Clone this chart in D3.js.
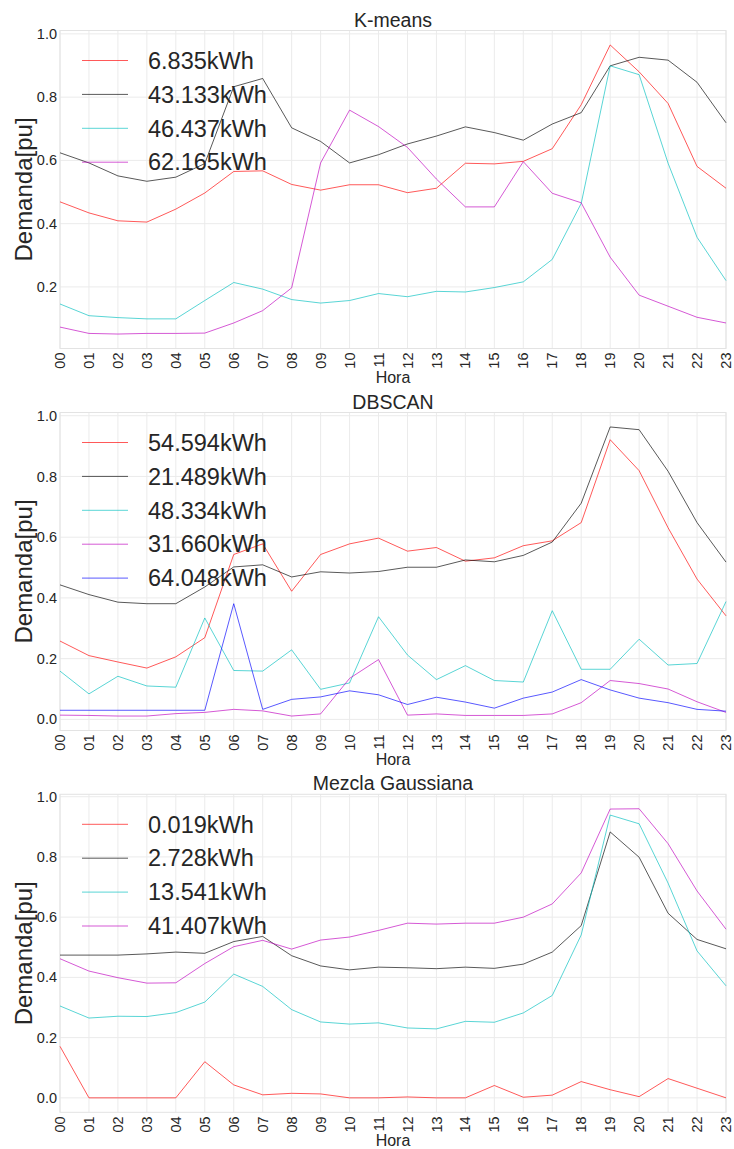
<!DOCTYPE html>
<html>
<head>
<meta charset="utf-8">
<script src="https://cdn.jsdelivr.net/npm/d3@7"></script>
<style>
  body { margin: 0; background: #fff; }
  svg { display: block; font-family: "Liberation Sans", Arial, sans-serif; }
</style>
</head>
<body>
<svg id="chart" width="734" height="1149"></svg>
<script>
const hours = ["00","01","02","03","04","05","06","07","08","09","10","11","12","13","14","15","16","17","18","19","20","21","22","23"];
const yTicks = [0.0, 0.2, 0.4, 0.6, 0.8, 1.0];

// K-means
const kmeansTitle = "K-means";
const kmeansLabels = ["6.835kWh", "43.133kWh", "46.437kWh", "62.165kWh"];
const kmeansRed = [0.469,0.434,0.409,0.405,0.446,0.497,0.565,0.567,0.524,0.506,0.523,0.523,0.498,0.512,0.591,0.589,0.597,0.637,0.776,0.965,0.880,0.780,0.581,0.512];
const kmeansBlack = [0.624,0.592,0.551,0.534,0.547,0.590,0.833,0.859,0.703,0.660,0.592,0.618,0.652,0.677,0.706,0.688,0.664,0.715,0.751,0.899,0.926,0.917,0.847,0.719];
const kmeansCyan = [0.146,0.109,0.103,0.099,0.099,0.157,0.214,0.193,0.160,0.149,0.157,0.179,0.169,0.186,0.184,0.198,0.216,0.287,0.464,0.899,0.871,0.591,0.357,0.220];
const kmeansMagenta = [0.073,0.053,0.051,0.053,0.053,0.054,0.086,0.125,0.197,0.592,0.759,0.707,0.641,0.541,0.453,0.453,0.596,0.496,0.466,0.294,0.174,0.139,0.104,0.086];

// DBSCAN
const dbscanTitle = "DBSCAN";
const dbscanLabels = ["54.594kWh", "21.489kWh", "48.334kWh", "31.660kWh", "64.048kWh"];
const dbscanRed = [0.258,0.210,0.189,0.169,0.206,0.269,0.543,0.578,0.422,0.543,0.578,0.597,0.554,0.566,0.521,0.532,0.572,0.588,0.648,0.921,0.819,0.631,0.462,0.341];
const dbscanBlack = [0.443,0.411,0.386,0.381,0.381,0.436,0.502,0.509,0.469,0.486,0.482,0.487,0.501,0.501,0.525,0.519,0.540,0.584,0.712,0.963,0.954,0.817,0.648,0.518];
const dbscanCyan = [0.159,0.084,0.142,0.110,0.106,0.334,0.161,0.159,0.229,0.099,0.120,0.338,0.212,0.131,0.177,0.128,0.123,0.358,0.165,0.165,0.264,0.179,0.184,0.388];
const dbscanMagenta = [0.014,0.013,0.011,0.011,0.019,0.023,0.033,0.028,0.011,0.018,0.135,0.197,0.014,0.018,0.013,0.013,0.013,0.018,0.055,0.128,0.118,0.100,0.058,0.023];
const dbscanBlue = [0.030,0.030,0.030,0.030,0.030,0.030,0.381,0.033,0.066,0.074,0.094,0.081,0.049,0.073,0.057,0.037,0.070,0.090,0.131,0.097,0.070,0.055,0.033,0.027];

// Mezcla Gaussiana
const gmmTitle = "Mezcla Gaussiana";
const gmmLabels = ["0.019kWh", "2.728kWh", "13.541kWh", "41.407kWh"];
const gmmRed = [0.171,0.0,0.0,0.0,0.0,0.120,0.043,0.010,0.015,0.013,0.0,0.0,0.003,0.0,0.0,0.041,0.002,0.009,0.054,0.027,0.004,0.064,0.032,0.0];
const gmmBlack = [0.474,0.474,0.474,0.478,0.484,0.480,0.519,0.536,0.472,0.438,0.425,0.434,0.432,0.429,0.434,0.430,0.444,0.484,0.572,0.883,0.799,0.613,0.526,0.495];
const gmmCyan = [0.305,0.265,0.271,0.270,0.283,0.318,0.411,0.370,0.293,0.252,0.245,0.249,0.232,0.229,0.254,0.251,0.282,0.340,0.541,0.939,0.910,0.713,0.488,0.372];
const gmmMagenta = [0.462,0.421,0.399,0.381,0.382,0.446,0.502,0.523,0.494,0.524,0.534,0.556,0.580,0.577,0.580,0.580,0.600,0.644,0.747,0.959,0.960,0.844,0.687,0.560];

const seriesColors = ["#ff0000", "#000000", "#00bfbf", "#bf00bf", "#0000ff"];

const panels = [
  { title: kmeansTitle, labels: kmeansLabels, series: [kmeansRed, kmeansBlack, kmeansCyan, kmeansMagenta] },
  { title: dbscanTitle, labels: dbscanLabels, series: [dbscanRed, dbscanBlack, dbscanCyan, dbscanMagenta, dbscanBlue] },
  { title: gmmTitle, labels: gmmLabels, series: [gmmRed, gmmBlack, gmmCyan, gmmMagenta] }
];

const svg = d3.select("#chart");
const left = 60, right = 726, plotH = 318;
const tops = [30.5, 412.5, 794.3];
const textColor = "#262626";

const x = d3.scalePoint().domain(hours).range([left, right]);

panels.forEach((p, i) => {
  const top = tops[i], bottom = top + plotH;
  const all = p.series.flat();
  const mn = d3.min(all), mx = d3.max(all), pad = (mx - mn) * 0.05;
  const y = d3.scaleLinear().domain([mn - pad, mx + pad]).range([bottom, top]);
  const g = svg.append("g");

  // grid
  const ticks = yTicks.filter(t => t >= y.domain()[0] && t <= y.domain()[1]);
  g.append("g").selectAll("line.h").data(ticks).join("line")
    .attr("x1", left).attr("x2", right)
    .attr("y1", d => y(d)).attr("y2", d => y(d))
    .attr("stroke", "#ebebeb").attr("stroke-width", 1);
  g.append("g").selectAll("line.v").data(hours).join("line")
    .attr("x1", d => x(d)).attr("x2", d => x(d))
    .attr("y1", top).attr("y2", bottom)
    .attr("stroke", "#ebebeb").attr("stroke-width", 1);
  // frame
  g.append("rect").attr("x", left).attr("y", top).attr("width", right - left).attr("height", plotH)
    .attr("fill", "none").attr("stroke", "#e3e3e3").attr("stroke-width", 1);

  // y tick labels
  g.append("g").selectAll("text").data(ticks).join("text")
    .attr("x", left - 3).attr("y", d => y(d)).attr("dy", "0.35em")
    .attr("text-anchor", "end").attr("font-size", 14.5).attr("fill", textColor)
    .text(d => d3.format(".1f")(d));

  // x tick labels
  g.append("g").selectAll("text").data(hours).join("text")
    .attr("transform", d => `translate(${x(d)},${bottom + 4}) rotate(-90)`)
    .attr("dy", "0.35em").attr("text-anchor", "end")
    .attr("font-size", 14.5).attr("fill", textColor)
    .text(d => d);

  // axis labels & title
  g.append("text").attr("x", (left + right) / 2).attr("y", bottom + 34)
    .attr("text-anchor", "middle").attr("font-size", 16).attr("fill", textColor).text("Hora");
  g.append("text").attr("transform", `translate(32,${(top + bottom) / 2}) rotate(-90)`)
    .attr("text-anchor", "middle").attr("font-size", 24).attr("fill", textColor).text("Demanda[pu]");
  g.append("text").attr("x", (left + right) / 2).attr("y", top - 4)
    .attr("text-anchor", "middle").attr("font-size", 19.5).attr("fill", textColor).text(p.title);

  // lines
  const line = d3.line().x((d, j) => x(hours[j])).y(d => y(d));
  g.append("g").selectAll("path").data(p.series).join("path")
    .attr("d", line).attr("fill", "none")
    .attr("stroke", (d, k) => seriesColors[k]).attr("stroke-opacity", 0.65)
    .attr("stroke-width", 1);

  // legend
  const lg = g.append("g").selectAll("g").data(p.labels).join("g")
    .attr("transform", (d, k) => `translate(0,${top + 30 + k * 33.9})`);
  lg.append("line").attr("x1", 82).attr("x2", 128)
    .attr("stroke", (d, k) => seriesColors[k]).attr("stroke-opacity", 0.65).attr("stroke-width", 1);
  lg.append("text").attr("x", 148).attr("dy", "0.35em")
    .attr("font-size", 23.5).attr("fill", textColor).text(d => d);
});
</script>
</body>
</html>
